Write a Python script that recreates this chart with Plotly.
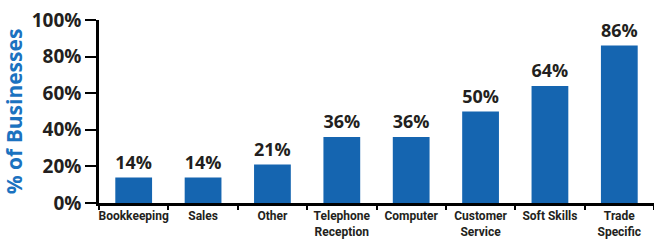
import plotly.graph_objects as go

categories = ["Bookkeeping", "Sales", "Other", "Telephone<br>Reception", "Computer",
              "Customer<br>Service", "Soft Skills", "Trade<br>Specific"]
values = [14, 14, 21, 36, 36, 50, 64, 86]
y_ticks = [0, 20, 40, 60, 80, 100]
y_tick_labels = ["0%", "20%", "40%", "60%", "80%", "100%"]

fig = go.Figure(go.Bar(
    x=categories, y=values,
    marker=dict(color="#1565B0", line=dict(width=0)),
    text=[f"{v}%" for v in values], textposition="outside",
    textfont=dict(family="Open Sans", size=19, color="#231F20", weight="bold"),
    cliponaxis=False,
))

fig.update_layout(
    width=654, height=246,
    margin=dict(l=99, r=0, t=20, b=43),
    paper_bgcolor="white", plot_bgcolor="white",
    bargap=0.47, showlegend=False,
    font=dict(family="Open Sans", color="#231F20"),
    yaxis=dict(
        range=[0, 100], tickvals=y_ticks, ticktext=y_tick_labels,
        ticks="outside", ticklen=11, tickwidth=2, tickcolor="black",
        showline=True, linecolor="black", linewidth=2.5, showgrid=False, zeroline=False,
        automargin=False,
        tickfont=dict(family="Open Sans", size=19, color="#231F20", weight="bold"),
        title=dict(text="% of Businesses", standoff=4,
                   font=dict(family="Open Sans", size=21, color="#1B72C0", weight="bold")),
    ),
    xaxis=dict(
        tickson="boundaries", ticks="outside", ticklen=4, tickwidth=2, tickcolor="black",
        showline=True, linecolor="black", linewidth=2.5, showgrid=False,
        tickangle=0, automargin=False,
        tickfont=dict(family="Roboto", size=12, color="#231F20", weight="bold"),
    ),
)

fig.write_html("out.html", config={"displayModeBar": False},
               post_script="document.body.style.margin='0';document.body.style.overflow='hidden';")
